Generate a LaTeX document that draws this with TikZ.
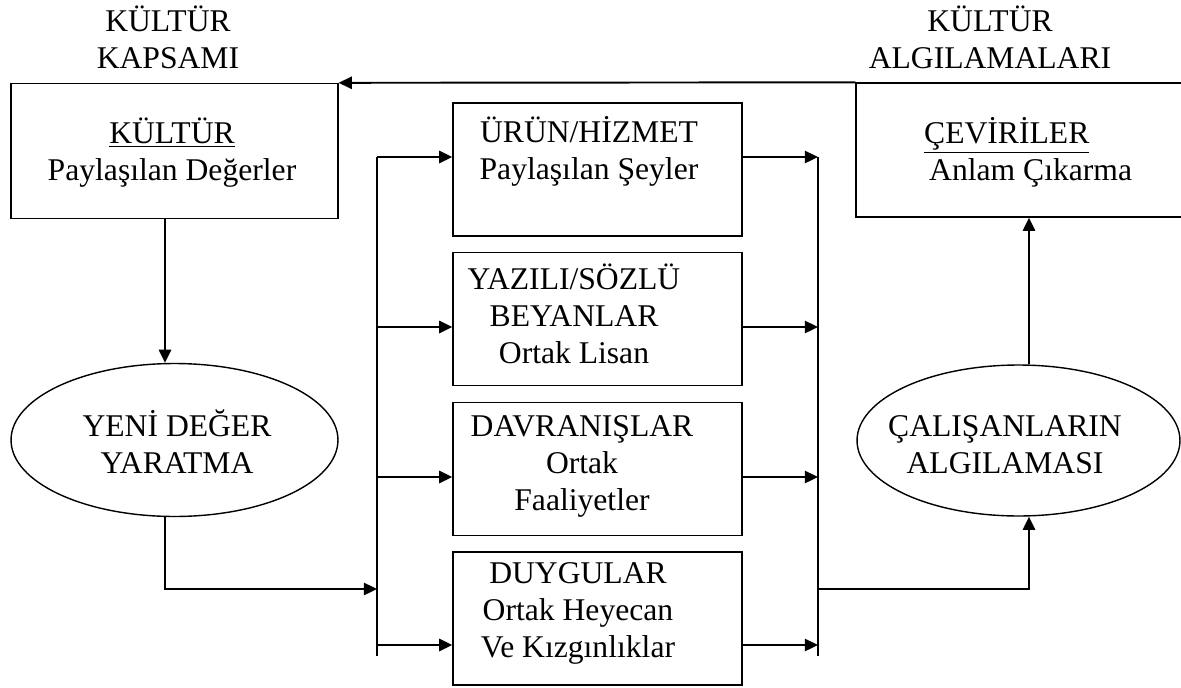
\documentclass[tikz,border=0pt]{standalone}
\usepackage{fontspec}
\setmainfont{Liberation Serif}
\usetikzlibrary{arrows.meta, shapes.geometric}

\tikzset{
  box/.style={draw, line width=0.8pt, inner sep=0pt},
  oval/.style={draw, ellipse, line width=0.8pt, inner sep=0pt},
  lbl/.style={align=center, anchor=base, font=\fontsize{18}{21}\selectfont},
  arr/.style={line width=1.1pt, -{Triangle[length=7.5pt,width=7pt]}},
}

\begin{document}
\begin{tikzpicture}[x=0.02cm, y=-0.02cm]
	\useasboundingbox (0,0) rectangle (1181,687);
	
	% Headers (placed by the baseline of their last line)
	\node[lbl] (hkap) at (168,68) {KÜLTÜR\\KAPSAMI};
	\node[lbl] (halg) at (990,68) {KÜLTÜR\\ALGILAMALARI};
	
	% Outer boxes
	\node[box, minimum width=6.54cm, minimum height=2.7cm] (KB) at (174.5,151) {};
	\node[box, minimum width=6.68cm, minimum height=2.68cm] (CB) at (1023,150) {};
	\node[lbl] (tkb) at (172,180) {\underline{KÜLTÜR}\\Paylaşılan Değerler};
	\node[lbl, align=left, anchor=base west] (tcb) at (918,180) {\underline{ÇEVİRİLER}\\\hspace*{0.1cm}Anlam Çıkarma};
	
	% Middle boxes
	\node[box, minimum width=5.78cm, minimum height=2.66cm] (b1) at (597.5,169.5) {};
	\node[box, minimum width=5.78cm, minimum height=2.66cm] (b2) at (597.5,319) {};
	\node[box, minimum width=5.78cm, minimum height=2.66cm] (b3) at (597.5,469) {};
	\node[box, minimum width=5.78cm, minimum height=2.66cm] (b4) at (597.5,618.5) {};
	\node[lbl] (t1) at (589,179) {ÜRÜN/HİZMET\\Paylaşılan Şeyler};
	\node[lbl] (t2) at (574,363) {YAZILI/SÖZLÜ\\BEYANLAR\\Ortak Lisan};
	\node[lbl] (t3) at (582,510) {DAVRANIŞLAR\\Ortak\\Faaliyetler};
	\node[lbl] (t4) at (578,657) {DUYGULAR\\Ortak Heyecan\\Ve Kızgınlıklar};
	
	% Ellipses
	\node[oval, minimum width=6.54cm, minimum height=3.06cm] (YD) at (174.5,440) {};
	\node[oval, minimum width=6.46cm, minimum height=3.02cm] (CA) at (1018.5,440.5) {};
	\node[lbl] (tyd) at (177,473) {YENİ DEĞER\\YARATMA};
	\node[lbl] (tca) at (1005,473) {ÇALIŞANLARIN\\ALGILAMASI};
	
	% Bus lines
	\coordinate (LT) at (377,157);
	\coordinate (LB) at (377,656);
	\coordinate (RT) at (818,157);
	\coordinate (RB) at (818,656);
	\draw[line width=0.8pt] (LT) -- (LB);
	\draw[line width=0.8pt] (RT) -- (RB);
	
	% Branches into and out of the middle boxes
	\foreach \b/\y in {b1/157, b2/327, b3/477, b4/645} {
		\coordinate (p) at (377,\y);
		\draw[arr] (p) -- (p -| \b.west);
		\draw[arr] (p -| \b.east) -- (p -| RT);
	}
	
	% Loop round the outside
	\coordinate (kb) at ([xshift=-0.19cm]KB.south);
	\coordinate (yd) at ([xshift=-0.19cm]YD.south);
	\coordinate (LF) at (377,589);
	\coordinate (RF) at (818,589);
	\coordinate (cas) at ([xshift=0.21cm]CA.south);
	\coordinate (can) at ([xshift=0.21cm]CA.north);
	\draw[arr] (kb) -- (kb |- YD.north);
	\draw[arr] (yd) |- (LF);
	\draw[arr] (RF) -| (cas);
	\draw[arr] (can) -- (can |- CB.south);
	\draw[arr] (CB.north west) -- (KB.north east);
\end{tikzpicture}
\end{document}
